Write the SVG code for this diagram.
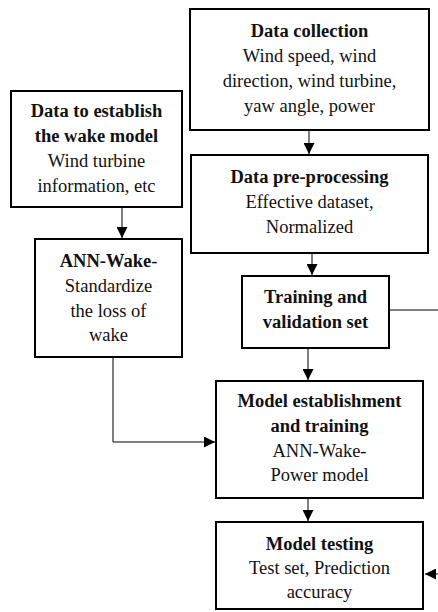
<svg xmlns="http://www.w3.org/2000/svg" width="438" height="612" viewBox="0 0 438 612">
<defs>
<marker id="ah" viewBox="0 0 10 10" refX="10" refY="5" markerWidth="11" markerHeight="11" markerUnits="userSpaceOnUse" orient="auto">
<path d="M0,0 L10,5 L0,10 Z" fill="#000"/>
</marker>
<style>
.box{fill:#fff;stroke:#000;stroke-width:2}
.t{font-family:"Liberation Serif","Times New Roman",serif;font-size:18.5px;fill:#111;text-anchor:middle}
.b{font-weight:bold}
.c{fill:none;stroke:#000;stroke-width:1}
</style>
</defs>
<rect width="438" height="612" fill="#fff"/>
<g id="connectors">
<line class="c" x1="309" y1="131" x2="309" y2="154" marker-end="url(#ah)"/>
<line class="c" x1="122" y1="208" x2="122" y2="238" marker-end="url(#ah)"/>
<line class="c" x1="312" y1="254" x2="312" y2="275" marker-end="url(#ah)"/>
<line class="c" x1="390" y1="310" x2="438" y2="310"/>
<line class="c" x1="308" y1="349" x2="308" y2="380" marker-end="url(#ah)"/>
<polyline class="c" points="113,358 113,442 215,442" marker-end="url(#ah)"/>
<line class="c" x1="308" y1="499" x2="308" y2="521" marker-end="url(#ah)"/>
<line class="c" x1="438" y1="574" x2="425" y2="574" marker-end="url(#ah)"/>
</g>
<g id="data-collection">
<rect class="box" x="190" y="9" width="239" height="121"/>
<text class="t b" x="309.5" y="37">Data collection</text>
<text class="t" x="309.5" y="62">Wind speed, wind</text>
<text class="t" x="309.5" y="87">direction, wind turbine,</text>
<text class="t" x="309.5" y="112">yaw angle, power</text>
</g>
<g id="data-wake">
<rect class="box" x="11" y="91" width="171" height="116"/>
<text class="t b" x="96.5" y="117">Data to establish</text>
<text class="t b" x="96.5" y="142">the wake model</text>
<text class="t" x="96.5" y="167">Wind turbine</text>
<text class="t" x="96.5" y="192">information, etc</text>
</g>
<g id="pre-processing">
<rect class="box" x="191" y="155" width="237" height="98"/>
<text class="t b" x="309.5" y="183">Data pre-processing</text>
<text class="t" x="309.5" y="208">Effective dataset,</text>
<text class="t" x="309.5" y="233">Normalized</text>
</g>
<g id="ann-wake">
<rect class="box" x="35" y="239" width="147" height="118"/>
<text class="t" x="108.5" y="267"><tspan class="b">ANN-Wake</tspan>-</text>
<text class="t" x="108.5" y="292">Standardize</text>
<text class="t" x="108.5" y="317">the loss of</text>
<text class="t" x="108.5" y="341">wake</text>
</g>
<g id="training-set">
<rect class="box" x="242" y="276" width="147" height="72"/>
<text class="t b" x="315.5" y="303">Training and</text>
<text class="t b" x="315.5" y="328">validation set</text>
</g>
<g id="model-establishment">
<rect class="box" x="216" y="381" width="207" height="117"/>
<text class="t b" x="319.5" y="407">Model establishment</text>
<text class="t b" x="319.5" y="432">and training</text>
<text class="t" x="319.5" y="457">ANN-Wake-</text>
<text class="t" x="319.5" y="481">Power model</text>
</g>
<g id="model-testing">
<rect class="box" x="216" y="522" width="207" height="87"/>
<text class="t b" x="319.5" y="550">Model testing</text>
<text class="t" x="319.5" y="574">Test set, Prediction</text>
<text class="t" x="319.5" y="598">accuracy</text>
</g>
</svg>
